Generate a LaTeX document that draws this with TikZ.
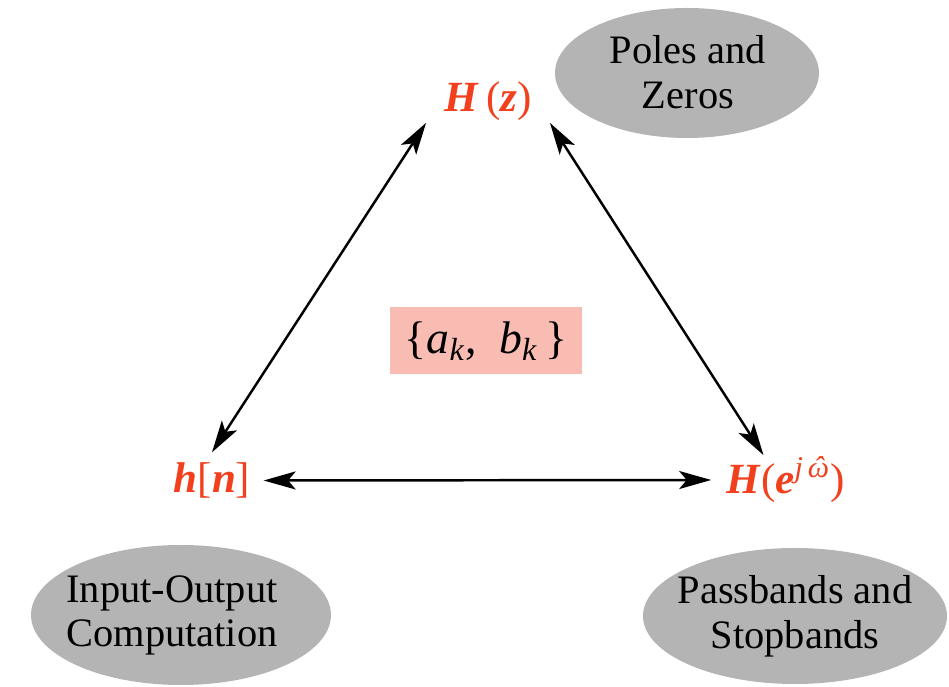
\documentclass[tikz,border=0pt]{standalone}
\usepackage{fontspec}
\setmainfont{Liberation Serif}
\usetikzlibrary{arrows.meta}
\definecolor{rot}{HTML}{F2401E}
\definecolor{blobgrau}{HTML}{B4B4B4}
\definecolor{rosa}{HTML}{F8BCB3}
\tikzset{
  pfeil/.style={{Stealth[length=6.4mm,width=3.6mm,inset=1.5mm]}-{Stealth[length=6.4mm,width=3.6mm,inset=1.5mm]},black,line width=1.4pt},
  trafo/.style={rot,font=\fontsize{24.5}{28}\selectfont,inner ysep=0.04cm},
  blob/.style={fill=blobgrau},
  blobtext/.style={align=center,font=\fontsize{23}{25.5}\selectfont,inner sep=0pt},
  koeff/.style={fill=rosa,minimum width=3.84cm,minimum height=1.34cm,font=\fontsize{26}{28}\selectfont},
}
\newcommand{\bi}[1]{\textbf{\textit{#1}}}
\newcommand{\omhat}{\textit{\ooalign{ω\cr\hidewidth ˆ\hidewidth\cr}}}

\begin{document}
\begin{tikzpicture}
  \useasboundingbox (0,0) rectangle (18.98,13.74);
  % graue Ellipsen
  \fill[blob] (13.74,12.28) ellipse [x radius=2.64, y radius=1.30];
  \fill[blob] (3.62,1.44) ellipse [x radius=3.00, y radius=1.40];
  \fill[blob] (15.90,1.42) ellipse [x radius=3.04, y radius=1.36];
  \node[blobtext] (pz) at (13.76,12.30) {Poles and\\Zeros};
  \node[blobtext] (io) at (3.44,1.43) {Input-Output\\Computation};
  \node[blobtext] (ps) at (15.90,1.42) {Passbands and\\Stopbands};
  % Darstellungen
  \node[trafo,inner xsep=0.36cm] (hz) at (9.76,11.72) {\bi{H}\,(\bi{z})};
  \node[trafo,inner xsep=0.26cm,inner ysep=0.2cm] (hn) at (4.24,4.13) {\bi{h}[\bi{n}]};
  \node[trafo,inner xsep=0.30cm] (he) at (15.71,4.14) {\bi{H}(\bi{e}\textsuperscript{\textit{j}\,\omhat})};
  \node[koeff] (ab) at (9.72,6.92) {\{\textit{a}\textsubscript{\textit{k}},\enspace\textit{b}\textsubscript{\textit{k}}\,\}};
  % Pfeile
  \draw[pfeil] (hz.south west) -- (hn.north);
  \draw[pfeil] (hz.south east) -- ([xshift=-0.44cm]he.north);
  \draw[pfeil] (hn.east) -- (he.west);
\end{tikzpicture}
\end{document}
